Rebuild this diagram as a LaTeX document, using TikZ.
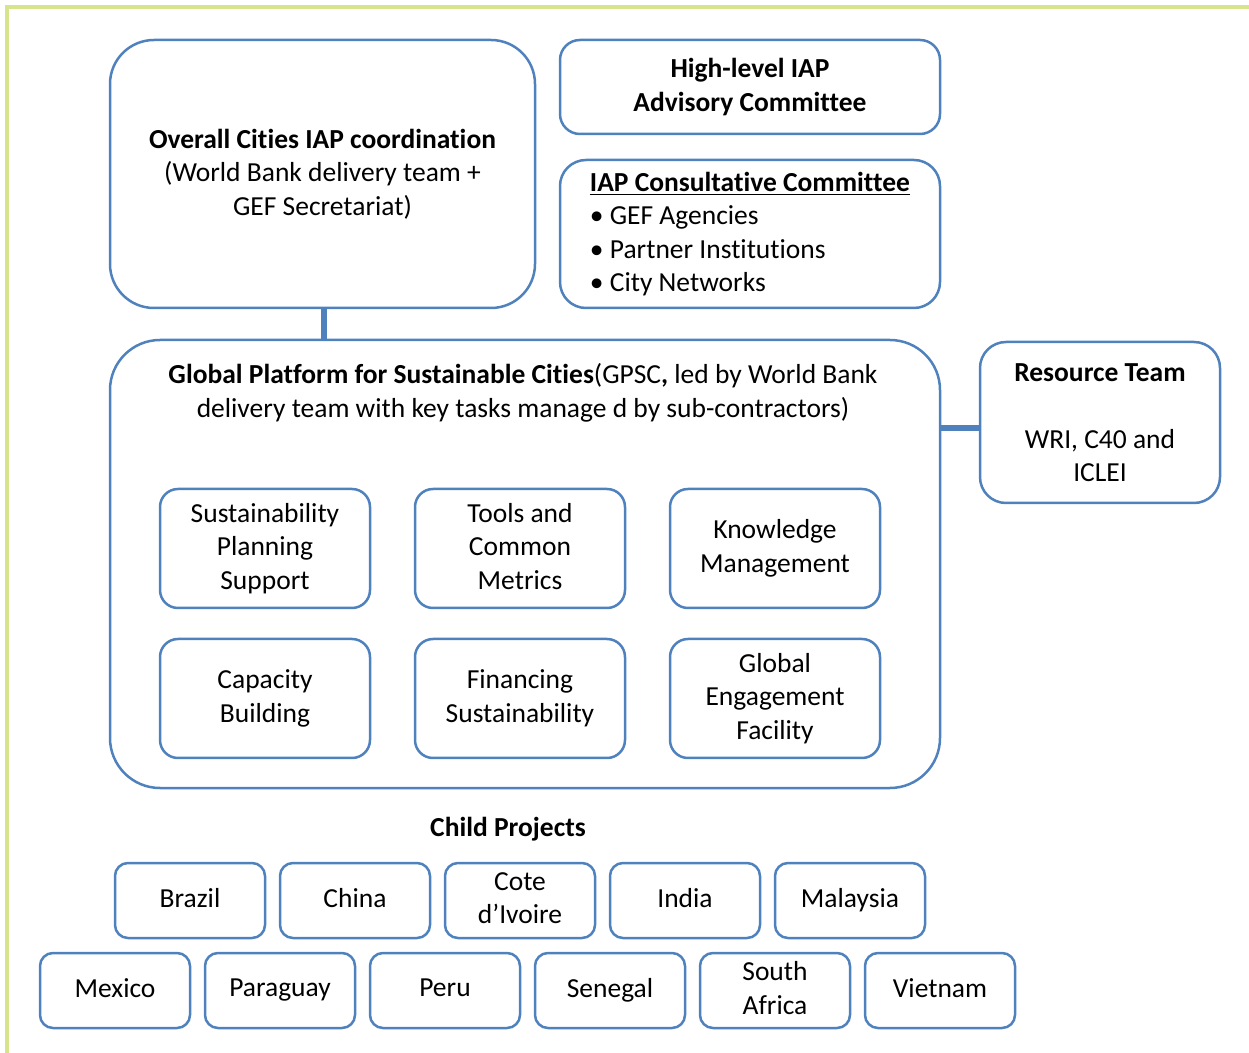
\documentclass[tikz,border=0pt]{standalone}
\usepackage{fontspec}
\setmainfont{Carlito}[Ligatures=NoCommon]
\usepackage{tikz}
\usetikzlibrary{positioning}
\definecolor{boxblue}{RGB}{79,129,189}
\definecolor{framegreen}{RGB}{215,228,140}
\tikzstyle{panel} = [ rectangle, draw = boxblue, line width = 1.25pt, %
                      text centered, align = center ]
\tikzstyle{task} = [ rectangle, rounded corners = 9pt, minimum width = 105pt, %
                     minimum height = 59.5pt, draw = boxblue, %
                     line width = 1.25pt, align = center, text depth = 0.25em ]
\tikzstyle{country} = [ rectangle, rounded corners = 6.5pt, %
                        minimum width = 75pt, minimum height = 37.5pt, %
                        draw = boxblue, line width = 1.25pt, align = center, %
                        text depth = 0.25em ]
\tikzstyle{link} = [draw = boxblue, line width = 2.75pt]
\newcommand{\bodysize}{\fontsize{13.75}{16.75}\selectfont}

\begin{document}
\begin{tikzpicture}[x=0.5pt, y=-0.5pt, every node/.append style={font=\bodysize}]
      \useasboundingbox (0,0) rectangle (1249,1053);
      \draw [framegreen, line width=2pt] (1249,7) -- (7,7) -- (7,1053);
      % Committees
      \node (overall) [panel, rounded corners=22pt, minimum width=212.5pt, %
        minimum height=134pt] at (322.5,174)
        {\textbf{Overall Cities IAP coordination}\\
         (World Bank delivery team +\\GEF Secretariat)};
      \node (advisory) [panel, rounded corners=10pt, minimum width=190pt, %
        minimum height=47pt] at (750,87)
        {\textbf{High-level IAP}\\\textbf{Advisory Committee}};
      \node (consult) [panel, rounded corners=13pt, minimum width=190pt, %
        minimum height=74pt, align=left] at (750,234)
        {\underline{\textbf{IAP Consultative Committee}}\\
         • GEF Agencies\\• Partner Institutions\\• City Networks};
      % Platform
      \node (gpsc) [panel, rounded corners=25pt, minimum width=415pt, %
        minimum height=224pt] at (525,564) {};
      \node (gpsctitle) [align=center] at (523,393)
        {\textbf{Global Platform for Sustainable Cities}(GPSC\textbf{,} led by World Bank\\
         delivery team with key tasks manage d by sub-contractors)};
      \node (plan) [task] at (265,548.5) {Sustainability\\Planning\\Support};
      \node (tools) [task, right=21.25pt of plan] {Tools and\\Common\\Metrics};
      \node (knowledge) [task, right=21.25pt of tools] {Knowledge\\Management};
      \node (capacity) [task, below=14.25pt of plan] {Capacity\\Building};
      \node (finance) [task, right=21.25pt of capacity] {Financing\\Sustainability};
      \node (engage) [task, right=21.25pt of finance] {Global\\Engagement\\Facility};
      \node (resource) [panel, rounded corners=13pt, minimum width=120pt, %
        minimum height=80.5pt] at (1100,422.5)
        {\textbf{Resource Team}\\[16.75pt]WRI, C40 and\\ICLEI};
      % Child projects
      \node (childtitle) at (508,829) {\textbf{Child Projects}};
      \node (brazil) [country] at (190,900.5) {Brazil};
      \node (china) [country, right=6.25pt of brazil] {China};
      \node (cote) [country, right=6.25pt of china] {Cote\\d’Ivoire};
      \node (india) [country, right=6.25pt of cote] {India};
      \node (malaysia) [country, right=6.25pt of india] {Malaysia};
      \node (mexico) [country] at (115,990.5) {Mexico};
      \node (paraguay) [country, right=6.25pt of mexico] {Paraguay};
      \node (peru) [country, right=6.25pt of paraguay] {Peru};
      \node (senegal) [country, right=6.25pt of peru] {Senegal};
      \node (southafrica) [country, right=6.25pt of senegal] {South\\Africa};
      \node (vietnam) [country, right=6.25pt of southafrica] {Vietnam};
      % Lines
      \draw [link] ([xshift=0.75pt]overall.south) -- ([xshift=0.75pt]overall.south |- gpsc.north);
      \draw [link] ([yshift=-2.75pt]resource.west) -- ([yshift=-2.75pt]resource.west -| gpsc.east);
    \end{tikzpicture}
\end{document}
